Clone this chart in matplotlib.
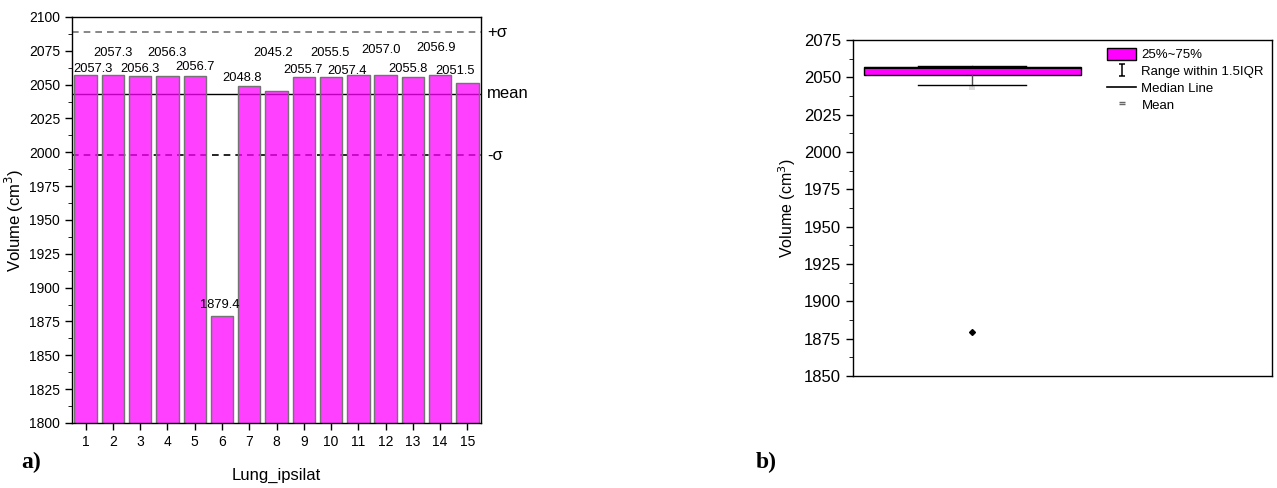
import numpy as np
import matplotlib.pyplot as plt
from matplotlib.lines import Line2D
from matplotlib.patches import Patch
from matplotlib.path import Path
from matplotlib.ticker import MultipleLocator

plt.rcParams['font.family'] = ['Liberation Sans', 'DejaVu Sans']

cases = np.arange(1, 16)
volumes = np.array([2057.3, 2057.3, 2056.3, 2056.3, 2056.7, 1879.4, 2048.8, 2045.2,
                    2055.7, 2055.5, 2057.4, 2057.0, 2055.8, 2056.9, 2051.5])

# hand-placed value labels (offsets in points from the bar top)
label_dx = [5.4, 0, 0, 0, 0, -1.4, -5.5, -2.4, -0.7, -1, -8, -3.6, -3.6, -2.9, -8.6]
label_dy = [4.2, 15.7, 5.1, 16.6, 6.2, 7.6, 6.0, 27.4, 5.0, 17.3, 2.7, 18.0, 5.8, 19.4, 8.4]

mean = volumes.mean()
sd = volumes.std(ddof=1)

fig = plt.figure(figsize=(12.77, 4.88), dpi=100)

# a) bar chart
ax = fig.add_axes([0.0564, 0.1332, 0.3203, 0.832])
ax.axhline(mean + sd, color='0.45', ls=(0, (4, 3)), lw=1.2, zorder=1)
ax.axhline(mean, color='black', lw=1.0, zorder=1)
ax.axhline(mean - sd, color='black', ls=(0, (4, 3)), lw=1.2, zorder=1)
ax.bar(cases, volumes, width=0.82, facecolor=(1, 0, 1, 0.75),
       edgecolor='0.45', lw=1.0, zorder=2)

for c, v, dx, dy in zip(cases, volumes, label_dx, label_dy):
    ax.annotate(f'{v:.1f}', (c, v), xytext=(dx, dy), textcoords='offset points',
                ha='center', va='center', fontsize=9.3, zorder=3)

ax.set_xlim(0.5, 15.5)
ax.set_ylim(1800, 2100)
ax.set_xticks(cases)
ax.yaxis.set_major_locator(MultipleLocator(25))
ax.yaxis.set_minor_locator(MultipleLocator(12.5))
ax.tick_params(direction='out', labelsize=10, length=5, width=1)
ax.tick_params(which='minor', direction='out', length=3)
ax.set_xlabel('Lung_ipsilat', fontsize=12, labelpad=14)
ax.set_ylabel('Volume (cm$^3$)', fontsize=12, labelpad=2)
for s in ax.spines.values():
    s.set_linewidth(1.0)

trans = ax.get_yaxis_transform()
ax.text(1.015, mean + sd, '+σ', transform=trans, ha='left', va='center', fontsize=12)
ax.text(1.015, mean, 'mean', transform=trans, ha='left', va='center', fontsize=12)
ax.text(1.015, mean - sd, '-σ', transform=trans, ha='left', va='center', fontsize=12)

fig.text(0.017, 0.04, 'a)', fontsize=17, fontweight='bold', family='Liberation Serif')

# b) box chart (Origin-style quartiles)
q1, med, q3 = np.percentile(volumes, [25, 50, 75], method='weibull')
iqr = q3 - q1
inside = volumes[(volumes >= q1 - 1.5 * iqr) & (volumes <= q3 + 1.5 * iqr)]
stats = [dict(med=med, q1=q1, q3=q3, mean=mean,
              whislo=inside.min(), whishi=inside.max(),
              fliers=volumes[(volumes < inside.min()) | (volumes > inside.max())])]

bx = fig.add_axes([0.668, 0.2295, 0.328, 0.6885])
bx.bxp(stats, positions=[0.285], widths=0.518, capwidths=0.258,
       patch_artist=True, showmeans=True,
       boxprops=dict(facecolor='magenta', edgecolor='black', lw=1.0),
       medianprops=dict(color='black', lw=1.5),
       whiskerprops=dict(color='0.3', lw=1.0),
       capprops=dict(color='black', lw=1.0),
       meanprops=dict(marker='$=$', markersize=4, markeredgecolor='0.35',
                      markerfacecolor='0.35', markeredgewidth=0.3),
       flierprops=dict(marker='D', markersize=3, markerfacecolor='black',
                       markeredgecolor='black'))
bx.set_xlim(0, 1)
bx.set_ylim(1850, 2075)
bx.set_xticks([])
bx.yaxis.set_major_locator(MultipleLocator(25))
bx.yaxis.set_minor_locator(MultipleLocator(12.5))
bx.tick_params(direction='out', labelsize=12, length=5, width=1)
bx.tick_params(which='minor', direction='out', length=3)
bx.set_ylabel('Volume (cm$^3$)', fontsize=11.5)
for s in bx.spines.values():
    s.set_linewidth(1.0)

ibeam = Path([(-0.5, 1), (0.5, 1), (0, 1), (0, -1), (-0.5, -1), (0.5, -1)],
             [Path.MOVETO, Path.LINETO, Path.MOVETO, Path.LINETO, Path.MOVETO, Path.LINETO])
handles = [Patch(facecolor='magenta', edgecolor='black'),
           Line2D([], [], color='black', marker=ibeam, ls='none', markersize=9,
                  markeredgewidth=1.1),
           Line2D([], [], color='black', lw=1.2),
           Line2D([], [], color='0.4', marker='$=$', ls='none', markersize=4)]
bx.legend(handles, ['25%~75%', 'Range within 1.5IQR', 'Median Line', 'Mean'],
          loc='upper right', fontsize=9.5, frameon=False, handlelength=2.2,
          handleheight=1.0, handletextpad=0.4, labelspacing=0.25, borderaxespad=0.2)

fig.text(0.592, 0.04, 'b)', fontsize=17, fontweight='bold', family='Liberation Serif')

fig.savefig('out.png', dpi=100)
